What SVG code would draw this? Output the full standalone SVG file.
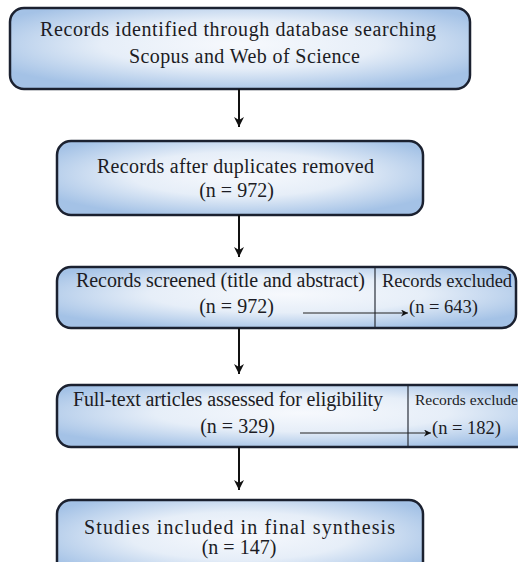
<svg xmlns="http://www.w3.org/2000/svg" width="518" height="562" viewBox="0 0 518 562">
<defs>
<radialGradient id="g" cx="50%" cy="45%" r="60%">
<stop offset="0" stop-color="#f7f9fd"/>
<stop offset="0.5" stop-color="#e6eef8"/>
<stop offset="1" stop-color="#a4c2e6"/>
</radialGradient>
<marker id="ah" viewBox="0 0 10 10" refX="10" refY="5" markerWidth="10" markerHeight="10" markerUnits="userSpaceOnUse" orient="auto">
<path d="M0,0 L10,5 L0,10 L3,5 z" fill="#111"/>
</marker>
<marker id="ahs" viewBox="0 0 10 10" refX="10" refY="5" markerWidth="7" markerHeight="7" markerUnits="userSpaceOnUse" orient="auto">
<path d="M0,0 L10,5 L0,10 L3,5 z" fill="#111"/>
</marker>
</defs>
<style>
.box{fill:url(#g);stroke:#1b2130;stroke-width:2.5}
.t{font-family:"Liberation Serif","Times New Roman",serif;font-size:20px;fill:#1c1c24;text-anchor:middle}
.tr{font-family:"Liberation Serif","Times New Roman",serif;font-size:18.5px;fill:#1c1c24}
.ts{font-family:"Liberation Serif","Times New Roman",serif;font-size:15.5px;fill:#1c1c24}
.div{stroke:#2a2f3a;stroke-width:1.2}
.v{stroke:#111;stroke-width:2;fill:none;marker-end:url(#ah)}
.h{stroke:#222;stroke-width:1;fill:none;marker-end:url(#ahs)}
</style>
<rect width="518" height="562" fill="#fff"/>
<g id="n1">
<rect class="box" x="10" y="8" width="460" height="81" rx="14"/>
<text class="t" x="238" y="36" textLength="396">Records identified through database searching</text>
<text class="t" x="244.5" y="63" textLength="231">Scopus and Web of Science</text>
</g>
<g id="n2">
<rect class="box" x="57" y="141" width="366" height="74" rx="14"/>
<text class="t" x="235.5" y="173" textLength="277">Records after duplicates removed</text>
<text class="t" x="236.5" y="197">(n = 972)</text>
</g>
<g id="n3">
<rect class="box" x="57" y="267" width="459" height="61" rx="14"/>
<line class="div" x1="375" y1="268" x2="375" y2="327"/>
<text class="t" x="220.5" y="287" textLength="289">Records screened (title and abstract)</text>
<text class="t" x="236.5" y="313">(n = 972)</text>
<text class="tr" x="382" y="287" textLength="130">Records excluded</text>
<text class="tr" x="409" y="313">(n = 643)</text>
</g>
<g id="n4">
<rect class="box" x="57" y="385" width="490" height="62" rx="14"/>
<line class="div" x1="408" y1="386" x2="408" y2="446"/>
<text class="t" x="228" y="406" textLength="310">Full-text articles assessed for eligibility</text>
<text class="t" x="237.5" y="433">(n = 329)</text>
<text class="ts" x="415" y="405">Records excluded</text>
<text class="tr" x="432" y="434">(n = 182)</text>
</g>
<g id="n5">
<rect class="box" x="57" y="500" width="366" height="80" rx="14"/>
<text class="t" x="239.5" y="534" textLength="311">Studies included in final synthesis</text>
<text class="t" x="239" y="554">(n = 147)</text>
</g>
<g id="connectors">
<line class="v" x1="239" y1="89" x2="239" y2="127"/>
<line class="v" x1="239" y1="215" x2="239" y2="257"/>
<line class="v" x1="239" y1="328" x2="239" y2="374"/>
<line class="v" x1="239" y1="447" x2="239" y2="490"/>
<line class="h" x1="303" y1="313" x2="408" y2="313"/>
<line class="h" x1="300" y1="433" x2="431" y2="433"/>
</g>
</svg>
